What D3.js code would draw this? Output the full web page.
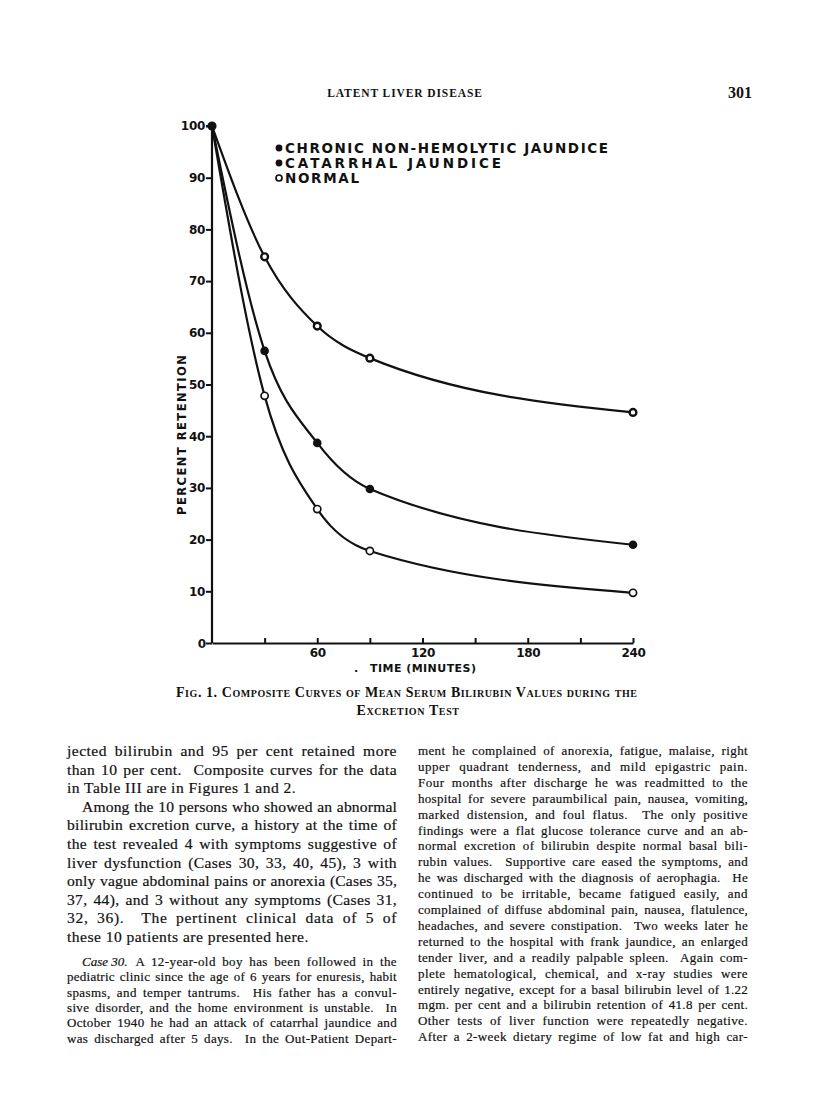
<!DOCTYPE html>
<html>
<head>
<meta charset="utf-8">
<script src="https://cdn.jsdelivr.net/npm/d3@7"></script>
<style>
  body { margin: 0; background: #fff; }
  svg { display: block; }
</style>
</head>
<body>
<svg width="816" height="1099"></svg>
<script>
// values
var times     = [0, 30, 60, 90, 240];
var chronic   = [100, 74.7, 61.3, 55.1, 44.6];
var catarrhal = [100, 56.5, 38.7, 29.8, 19.0];
var normal    = [100, 47.8, 25.9, 17.8, 9.7];

var seriesNames = ["CHRONIC NON-HEMOLYTIC JAUNDICE", "CATARRHAL JAUNDICE", "NORMAL"];
var xTickValues = [30, 60, 90, 120, 150, 180, 210, 240];
var xTickLabels = [60, 120, 180, 240];
var yTickValues = [0, 10, 20, 30, 40, 50, 60, 70, 80, 90, 100];

var header = "LATENT LIVER DISEASE";
var pageNumber = "301";
var caption1 = "Fig. 1.  Composite Curves of Mean Serum Bilirubin Values during the";
var caption2 = "Excretion Test";

var leftLines = [
  "jected bilirubin and 95 per cent retained more",
  "than 10 per cent.  Composite curves for the data",
  "in Table III are in Figures 1 and 2.",
  "Among the 10 persons who showed an abnormal",
  "bilirubin excretion curve, a history at the time of",
  "the test revealed 4 with symptoms suggestive of",
  "liver dysfunction (Cases 30, 33, 40, 45), 3 with",
  "only vague abdominal pains or anorexia (Cases 35,",
  "37, 44), and 3 without any symptoms (Cases 31,",
  "32, 36).  The pertinent clinical data of 5 of",
  "these 10 patients are presented here."
];
var leftIndent = [0, 0, 0, 1, 0, 0, 0, 0, 0, 0, 0];
var leftLast   = [0, 0, 1, 0, 0, 0, 0, 0, 0, 0, 1];

var caseLines = [
  "A 12-year-old boy has been followed in the",
  "pediatric clinic since the age of 6 years for enuresis, habit",
  "spasms, and temper tantrums.  His father has a convul-",
  "sive disorder, and the home environment is unstable.  In",
  "October 1940 he had an attack of catarrhal jaundice and",
  "was discharged after 5 days.  In the Out-Patient Depart-"
];

var rightLines = [
  "ment he complained of anorexia, fatigue, malaise, right",
  "upper quadrant tenderness, and mild epigastric pain.",
  "Four months after discharge he was readmitted to the",
  "hospital for severe paraumbilical pain, nausea, vomiting,",
  "marked distension, and foul flatus.  The only positive",
  "findings were a flat glucose tolerance curve and an ab-",
  "normal excretion of bilirubin despite normal basal bili-",
  "rubin values.  Supportive care eased the symptoms, and",
  "he was discharged with the diagnosis of aerophagia.  He",
  "continued to be irritable, became fatigued easily, and",
  "complained of diffuse abdominal pain, nausea, flatulence,",
  "headaches, and severe constipation.  Two weeks later he",
  "returned to the hospital with frank jaundice, an enlarged",
  "tender liver, and a readily palpable spleen.  Again com-",
  "plete hematological, chemical, and x-ray studies were",
  "entirely negative, except for a basal bilirubin level of 1.22",
  "mgm. per cent and a bilirubin retention of 41.8 per cent.",
  "Other tests of liver function were repeatedly negative.",
  "After a 2-week dietary regime of low fat and high car-"
];

var svg = d3.select("svg");
var INK = "#111";
var SERIF = "'Liberation Serif', 'DejaVu Serif', serif";
var SANS = "'DejaVu Sans', sans-serif";

// stretch a line to the column width: a little between letters, the rest between words
function justify(txt, width, base) {
    var n = txt.node();
    var s = n.textContent;
    var ls = base;
    txt.attr("letter-spacing", ls);
    var w = n.getComputedTextLength();
    var extra = width - w;
    var gaps = (s.match(/ /g) || []).length;
    if (extra > 0) {
        var add = Math.min(extra * 0.4 / s.length, 0.6);
        ls += add;
        txt.attr("letter-spacing", ls);
        w = n.getComputedTextLength();
    }
    if (gaps) txt.attr("word-spacing", (width - w) / gaps);
}

// ---- page header
svg.append("text")
    .attr("x", 405).attr("y", 97)
    .attr("text-anchor", "middle")
    .attr("font-family", SERIF).attr("font-weight", "bold")
    .attr("font-size", 11.5).attr("letter-spacing", 0.9)
    .attr("fill", INK)
    .text(header);

svg.append("text")
    .attr("x", 752).attr("y", 98)
    .attr("text-anchor", "end")
    .attr("font-family", SERIF).attr("font-weight", "bold")
    .attr("font-size", 16)
    .attr("fill", INK)
    .text(pageNumber);

// ---- chart
var x = d3.scaleLinear().domain([0, 240]).range([212, 633]);
var y = d3.scaleLinear().domain([0, 100]).range([643, 126]);

var g = svg.append("g");

var yAxis = g.append("g")
    .attr("transform", "translate(" + x(0) + ",0)")
    .call(d3.axisLeft(y).tickValues(yTickValues).tickSize(6).tickPadding(1)
        .tickFormat(d => d === 0 ? "" : d));

var xAxis = g.append("g")
    .attr("transform", "translate(0," + y(0) + ")")
    .call(d3.axisBottom(x).tickValues(xTickValues).tickSizeInner(-5).tickSizeOuter(0).tickPadding(5)
        .tickFormat(d => xTickLabels.indexOf(d) >= 0 ? d : ""));

[yAxis, xAxis].forEach(function(a) {
    a.select(".domain").attr("stroke", INK).attr("stroke-width", 2.2);
    a.selectAll(".tick line").attr("stroke", INK).attr("stroke-width", 2);
    a.selectAll(".tick text")
        .attr("fill", INK)
        .attr("font-family", SANS).attr("font-weight", "bold")
        .attr("font-size", 12).attr("letter-spacing", -0.3);
});
yAxis.select(".domain").attr("d", "M-6," + y(100) + "H0V" + y(0));

// zero label
g.append("text")
    .attr("x", x(0) - 6).attr("y", y(0) + 5)
    .attr("text-anchor", "end")
    .attr("font-family", SANS).attr("font-weight", "bold").attr("font-size", 12)
    .attr("fill", INK)
    .text("0");

// axis titles
g.append("text")
    .attr("transform", "translate(186,435) rotate(-90)")
    .attr("text-anchor", "middle")
    .attr("font-family", SANS).attr("font-weight", "bold").attr("font-size", 11.5)
    .attr("textLength", 160).attr("lengthAdjust", "spacing")
    .attr("fill", INK)
    .text("PERCENT RETENTION");

g.append("text")
    .attr("x", 370).attr("y", 672)
    .attr("font-family", SANS).attr("font-weight", "bold").attr("font-size", 11)
    .attr("textLength", 106).attr("lengthAdjust", "spacing")
    .attr("fill", INK)
    .text("TIME (MINUTES)");
g.append("text")
    .attr("x", 354).attr("y", 672)
    .attr("font-family", SANS).attr("font-weight", "bold").attr("font-size", 11)
    .attr("fill", INK)
    .text(".");

// curves
var line = d3.line()
    .curve(d3.curveMonotoneX)
    .x(d => x(d.t))
    .y(d => y(d.v));

function toPoints(vals) {
    return times.map((t, i) => ({t: t, v: vals[i]}));
}

var series = [
    {name: seriesNames[0], values: chronic, kind: "ring"},
    {name: seriesNames[1], values: catarrhal, kind: "filled"},
    {name: seriesNames[2], values: normal, kind: "open"}
];

series.forEach(function(s) {
    g.append("path")
        .datum(toPoints(s.values))
        .attr("fill", "none")
        .attr("stroke", INK)
        .attr("stroke-width", 2.2)
        .attr("d", line);
});

function marker(sel, kind) {
    if (kind === "filled") {
        sel.attr("r", 4.3).attr("fill", INK).attr("stroke", "none");
    } else if (kind === "ring") {
        sel.attr("r", 3.4).attr("fill", "#fff").attr("stroke", INK).attr("stroke-width", 2.4);
    } else {
        sel.attr("r", 3.6).attr("fill", "#fff").attr("stroke", INK).attr("stroke-width", 1.7);
    }
}

series.forEach(function(s) {
    g.selectAll(null)
        .data(toPoints(s.values).slice(1))
        .enter().append("circle")
        .attr("cx", d => x(d.t))
        .attr("cy", d => y(d.v))
        .call(marker, s.kind);
});

// shared start point
g.append("circle")
    .attr("cx", x(times[0])).attr("cy", y(100))
    .attr("r", 4.6).attr("fill", INK);

// legend
var legendY = [153, 168, 183];
var legendW = [323, 216, 74];
series.forEach(function(s, i) {
    g.append("circle")
        .attr("cx", 279).attr("cy", legendY[i] - 5)
        .call(marker, s.kind === "ring" ? "filled" : s.kind)
        .attr("r", s.kind === "open" ? 3 : 3.4);
    g.append("text")
        .attr("x", 285).attr("y", legendY[i])
        .attr("font-family", SANS).attr("font-weight", "bold").attr("font-size", 13.5)
        .attr("textLength", legendW[i]).attr("lengthAdjust", "spacing")
        .attr("fill", INK)
        .text(s.name);
});

// ---- caption
svg.append("text")
    .attr("x", 176).attr("y", 697)
    .attr("font-family", SERIF).attr("font-size", 14).attr("font-weight", "bold")
    .style("font-variant", "small-caps")
    .attr("textLength", 461).attr("lengthAdjust", "spacing")
    .attr("fill", INK)
    .text(caption1);
svg.append("text")
    .attr("x", 408).attr("y", 715)
    .attr("text-anchor", "middle")
    .attr("font-family", SERIF).attr("font-size", 14).attr("font-weight", "bold")
    .style("font-variant", "small-caps")
    .attr("letter-spacing", 0.6)
    .attr("fill", INK)
    .text(caption2);

// ---- body text
var COL = {left: 67, right: 418, width: 330};

function bodyText(x0, y0, size, str) {
    return svg.append("text")
        .attr("x", x0).attr("y", y0)
        .attr("font-family", SERIF).attr("font-size", size)
        .attr("fill", INK).attr("stroke", INK).attr("stroke-width", 0.2)
        .style("white-space", "pre")
        .text(str);
}

function para(lines, x0, y0, step, size, indent, last) {
    lines.forEach(function(t, i) {
        var ind = indent && indent[i] ? 15 : 0;
        var txt = bodyText(x0 + ind, y0 + i * step, size, t);
        if (!(last && last[i])) justify(txt, COL.width - ind, 0.1);
        else txt.attr("letter-spacing", 0.45);
    });
}

para(leftLines, COL.left, 756, 18.6, 15.6, leftIndent, leftLast);

// Case 30 paragraph
var caseY = 966;
var it = bodyText(COL.left + 15, caseY, 13, "Case 30.").attr("font-style", "italic");
var itW = it.node().getComputedTextLength() + 8;
var first = bodyText(COL.left + 15 + itW, caseY, 13, caseLines[0]);
justify(first, COL.width - 15 - itW, 0.1);
para(caseLines.slice(1), COL.left, caseY + 15.3, 15.3, 13, null, null);

para(rightLines, COL.right, 755, 15.9, 13, null, null);
</script>
</body>
</html>
